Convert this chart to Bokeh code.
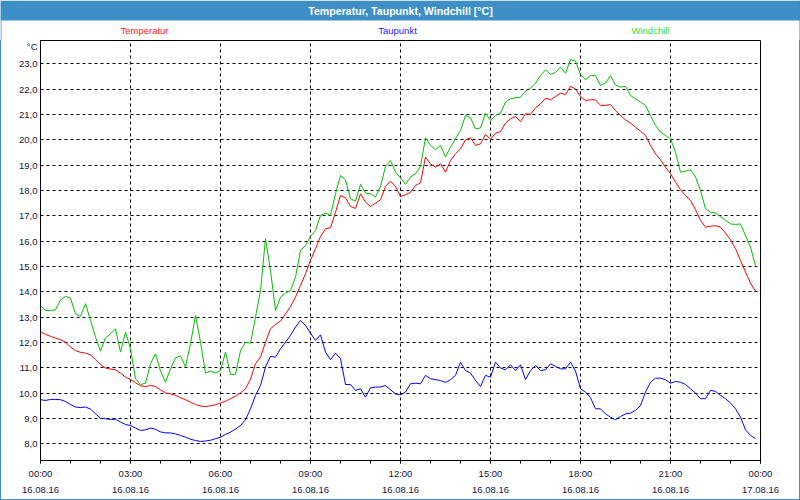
from bokeh.plotting import figure
from bokeh.models import Range1d, FixedTicker, Label
from bokeh.layouts import column
from bokeh.embed import file_html
from bokeh.resources import INLINE

title_text = "Temperatur, Taupunkt, Windchill [°C]"
series_names = ["Temperatur", "Taupunkt", "Windchill"]
y_unit = "°C"

tick_hours = [0, 3, 6, 9, 12, 15, 18, 21, 24]
time_labels = ["00:00", "03:00", "06:00", "09:00", "12:00", "15:00", "18:00", "21:00", "00:00"]
date_labels = ["16.08.16"] * 8 + ["17.08.16"]
minor_hours = list(range(0, 25))
y_ticks = list(range(8, 24))
y_tick_labels = [f"{v},0" for v in y_ticks]

step_minutes = 10

temperatur = [
    12.42, 12.32, 12.24, 12.17, 12.11, 12.01, 11.82, 11.68, 11.61, 11.58, 11.51, 11.32, 11.13, 10.99, 10.95,
    10.92, 10.79, 10.63, 10.54, 10.41, 10.29, 10.26, 10.30, 10.26, 10.13, 10.01, 9.97, 9.91, 9.82, 9.74,
    9.64, 9.55, 9.49, 9.47, 9.50, 9.54, 9.61, 9.68, 9.78, 9.88, 10.01, 10.17, 10.55, 11.16, 11.42,
    12.01, 12.54, 12.71, 12.84, 13.13, 13.42, 13.79, 14.25, 14.71, 15.24, 15.70, 16.18, 16.49,
    16.53, 17.14, 17.80, 17.71, 17.37, 17.29, 17.87, 17.54, 17.37, 17.50, 17.63, 18.16, 18.37, 18.16, 17.76,
    17.83, 17.93, 18.20, 18.30, 19.32, 19.05, 18.92, 19.05, 18.72, 19.18, 19.45, 19.64, 20.00, 20.08,
    19.78, 19.84, 20.21, 20.03, 20.26, 20.32, 20.66, 20.83, 20.92, 20.72, 21.03, 21.00, 21.26, 21.42,
    21.64, 21.58, 21.71, 21.84, 21.79, 22.11, 22.01, 21.71, 21.55, 21.58, 21.58, 21.36, 21.36, 21.39,
    21.15, 20.96, 20.79, 20.66, 20.50, 20.34, 20.17, 19.78, 19.45, 19.21, 18.92, 18.66, 18.33, 18.03, 17.80,
    17.61, 17.24, 16.82, 16.55, 16.59, 16.61, 16.55, 16.32, 16.05, 15.70, 15.24, 14.78, 14.34, 14.03,
]

taupunkt = [
    9.74, 9.71, 9.75, 9.75, 9.74, 9.67, 9.55, 9.45, 9.43, 9.45, 9.37, 9.18, 9.01, 8.99, 8.96,
    8.97, 8.86, 8.76, 8.72, 8.62, 8.53, 8.55, 8.62, 8.57, 8.47, 8.43, 8.43, 8.39, 8.33, 8.26,
    8.18, 8.13, 8.09, 8.11, 8.14, 8.20, 8.26, 8.37, 8.46, 8.58, 8.72, 8.95, 9.38, 9.91, 10.30,
    11.03, 11.45, 11.42, 11.75, 12.01, 12.28, 12.61, 12.87, 12.67, 12.37, 12.08, 12.30, 11.62,
    11.32, 11.58, 11.36, 10.34, 10.34, 10.11, 10.17, 9.84, 10.21, 10.24, 10.24, 10.30, 10.13, 9.97, 9.93,
    10.04, 10.37, 10.39, 10.37, 10.70, 10.57, 10.53, 10.50, 10.42, 10.53, 10.70, 11.22, 10.89, 10.79,
    10.50, 10.26, 10.70, 10.63, 11.22, 10.99, 10.92, 11.12, 10.89, 11.12, 10.53, 10.89, 11.09, 10.89,
    10.92, 11.16, 11.05, 10.96, 10.96, 11.22, 10.87, 10.17, 10.04, 9.82, 9.38, 9.38, 9.18, 9.05,
    8.95, 9.08, 9.18, 9.21, 9.32, 9.51, 10.04, 10.43, 10.59, 10.59, 10.53, 10.39, 10.46, 10.43, 10.34,
    10.17, 10.00, 9.78, 9.78, 10.11, 10.07, 9.91, 9.78, 9.61, 9.38, 9.05, 8.55, 8.33, 8.20,
]

windchill = [
    13.46, 13.26, 13.26, 13.29, 13.68, 13.82, 13.75, 13.13, 13.03, 13.53, 12.87, 12.21, 11.66, 12.18, 12.34,
    12.54, 11.62, 12.41, 11.75, 10.57, 10.34, 10.39, 11.16, 11.55, 10.87, 10.43, 10.96, 11.39, 11.47, 11.03,
    11.95, 13.07, 12.01, 10.79, 10.87, 10.79, 10.89, 11.62, 10.74, 10.74, 11.68, 12.01, 11.97, 13.00, 14.05,
    16.10, 14.84, 13.26, 13.79, 13.95, 14.05, 14.58, 15.63, 15.83, 16.18, 16.42, 17.01, 17.11,
    17.01, 17.87, 18.59, 18.42, 17.67, 17.58, 18.24, 17.89, 17.87, 17.74, 18.16, 18.95, 19.18, 18.72, 18.50,
    18.24, 18.53, 18.66, 18.95, 20.08, 19.78, 19.61, 19.78, 19.32, 19.71, 20.04, 20.37, 20.96, 20.87,
    20.43, 20.47, 21.05, 20.76, 20.96, 21.05, 21.49, 21.62, 21.66, 21.68, 21.92, 22.04, 22.24, 22.54,
    22.76, 22.58, 22.66, 22.87, 22.63, 23.16, 23.11, 22.58, 22.37, 22.54, 22.54, 22.14, 22.24, 22.53,
    22.16, 22.08, 22.11, 21.75, 21.62, 21.49, 21.36, 20.96, 20.57, 20.30, 20.17, 20.04, 19.51, 18.72, 18.76,
    18.82, 18.53, 18.00, 17.28, 17.14, 17.11, 16.97, 16.82, 16.68, 16.66, 16.68, 16.22, 15.76, 15.04,
]

hours = [i * step_minutes / 60 for i in range(len(temperatur))]

FONT = "Liberation Sans"
TEXT_COL = "#14143a"
BAR_COL = "#3d8fc6"
LINE_COLS = ["#ff0000", "#0000ff", "#00c000"]
LABEL_COLS = ["#ff2020", "#2020ff", "#33dd33"]

# ---- header: title bar + series labels (pixel-like coordinates) ----
t = figure(width=800, height=40, x_range=Range1d(0, 800), y_range=Range1d(40, 0),
           toolbar_location=None, output_backend="svg", min_border=0,
           x_axis_location=None, y_axis_location=None,
           background_fill_color="white", border_fill_color="white", outline_line_color=None)
t.frame_align = False
t.grid.visible = False
t.quad(left=0, right=800, top=0, bottom=20, fill_color=BAR_COL, line_color=None)
t.quad(left=[0, 799], right=[1, 800], top=[0, 0], bottom=[40, 40], fill_color=BAR_COL, line_color=None)
t.add_layout(Label(x=400, y=10, text=title_text, text_align="center", text_baseline="middle",
                   text_color="white", text_font_style="bold", text_font_size="10.6px", text_font=FONT))
label_px = [144, 397, 650]
for name, col, lx in zip(series_names, LABEL_COLS, label_px):
    t.add_layout(Label(x=lx, y=30, text=name, text_align="center", text_baseline="middle",
                       text_color=col, text_font=FONT, text_font_size="9.5px"))

# ---- main chart ----
p = figure(width=800, height=460, x_range=Range1d(0, 24), y_range=Range1d(7.34, 23.92),
           toolbar_location=None, output_backend="svg",
           min_border_left=40, min_border_right=40, min_border_top=0, min_border_bottom=40,
           background_fill_color="white", border_fill_color=None,
           styles={"background-color": "white",
                   "box-shadow": f"inset 1px 0 0 {BAR_COL}, inset -1px 0 0 {BAR_COL}, inset 0 -1px 0 {BAR_COL}"})
p.frame_align = False
p.outline_line_color = "black"
p.outline_line_width = 1

xa = p.xaxis[0]
xa.ticker = FixedTicker(ticks=tick_hours, minor_ticks=minor_hours)
xa.major_label_overrides = {h: f"{tl}\n{dl}" for h, tl, dl in zip(tick_hours, time_labels, date_labels)}
xa.major_tick_in = 0
xa.major_tick_out = 3
xa.minor_tick_in = 0
xa.minor_tick_out = 3
xa.major_label_standoff = 4
xa.major_label_text_font = FONT
xa.major_label_text_font_size = "9.5px"
xa.major_label_text_color = TEXT_COL
xa.major_label_text_line_height = 1.5
xa.axis_line_color = "black"
xa.major_tick_line_color = "black"
xa.minor_tick_line_color = "black"

# y axis: value ticks plus the unit shown as the topmost label
unit_pos = 23.72
ya = p.yaxis[0]
ya.ticker = FixedTicker(ticks=y_ticks + [unit_pos])
overrides = {v: lab for v, lab in zip(y_ticks, y_tick_labels)}
overrides[unit_pos] = y_unit
ya.major_label_overrides = overrides
ya.major_tick_in = 0
ya.major_tick_out = 0
ya.minor_tick_line_color = None
ya.major_label_standoff = 3
ya.major_label_text_font = FONT
ya.major_label_text_font_size = "9.5px"
ya.major_label_text_color = TEXT_COL
ya.axis_line_color = "black"

p.xgrid.ticker = FixedTicker(ticks=tick_hours[1:-1])
p.ygrid.ticker = FixedTicker(ticks=y_ticks)
for g in (p.xgrid[0], p.ygrid[0]):
    g.grid_line_color = "black"
    g.grid_line_dash = "3 3"
    g.grid_line_width = 1
    g.grid_line_alpha = 1

p.line(hours, taupunkt, line_color=LINE_COLS[1], line_width=1)
p.line(hours, temperatur, line_color=LINE_COLS[0], line_width=1)
p.line(hours, windchill, line_color=LINE_COLS[2], line_width=1)

layout = column(t, p, spacing=0)
open("out.html", "w").write(file_html(layout, INLINE))
